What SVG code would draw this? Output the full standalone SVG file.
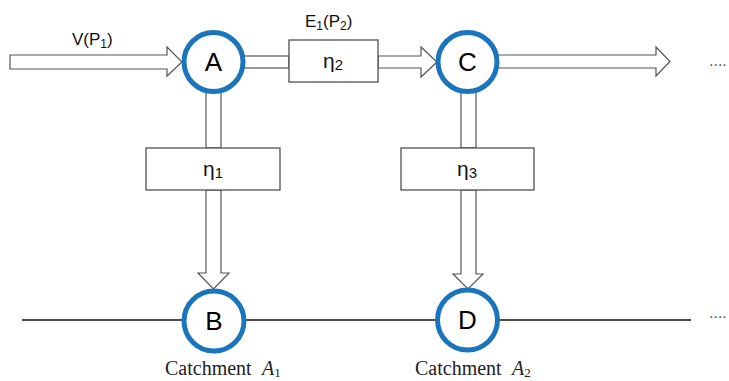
<svg xmlns="http://www.w3.org/2000/svg" width="729" height="381" viewBox="0 0 729 381">
<style>
.arr{fill:#fff;stroke:#555;stroke-width:1.2;stroke-linejoin:miter}
.box{fill:#fff;stroke:#444;stroke-width:1.2}
.node{fill:#fff;stroke:#1b75bc;stroke-width:5}
.lbl{font-family:"Liberation Sans",Arial,sans-serif;fill:#111}
.nl{font-family:"Liberation Sans",Arial,sans-serif;font-size:26px;fill:#000;text-anchor:middle}
.eta{font-family:"Liberation Sans",Arial,sans-serif;font-size:21px;fill:#111;text-anchor:middle}
.cat{font-family:"Liberation Serif","Times New Roman",serif;font-size:20px;fill:#222}
.dots{font-family:"Liberation Sans",Arial,sans-serif;font-size:16px;fill:#555}
</style>
<rect width="729" height="381" fill="#fff"/>
<g id="connectors">
<line x1="22" y1="320" x2="691" y2="320" stroke="#111" stroke-width="1.5"/>
<polygon class="arr" points="10,55 167,55 167,47 182,62 167,76 167,69 10,69"/>
<rect class="arr" x="238" y="56" width="51" height="12"/>
<polygon class="arr" points="378,56 421,56 421,47 437,62 421,77 421,68 378,68"/>
<polygon class="arr" points="497,55 656,55 656,47 670,61.5 656,76 656,68 497,68"/>
<rect class="arr" x="206" y="88" width="15" height="60"/>
<polygon class="arr" points="206,190 206,273 198,273 213.5,289 229,273 221,273 221,190"/>
<rect class="arr" x="461" y="88" width="15" height="60"/>
<polygon class="arr" points="461,190 461,274 453,274 468,289 483,274 476,274 476,190"/>
</g>
<g id="box-eta2"><rect class="box" x="289" y="40" width="89" height="42"/><text class="eta" x="333" y="68">η<tspan font-size="15" dy="2">2</tspan></text></g>
<g id="box-eta1"><rect class="box" x="146" y="148" width="134" height="42"/><text class="eta" x="213" y="176">η<tspan font-size="15" dy="2">1</tspan></text></g>
<g id="box-eta3"><rect class="box" x="401" y="148" width="133" height="42"/><text class="eta" x="467" y="176">η<tspan font-size="15" dy="2">3</tspan></text></g>
<g id="node-A"><circle class="node" cx="213.5" cy="62" r="29.5"/><text class="nl" x="213.5" y="71">A</text></g>
<g id="node-C"><circle class="node" cx="467.5" cy="62" r="29.5"/><text class="nl" x="467.5" y="71">C</text></g>
<g id="node-B"><circle class="node" cx="214" cy="321" r="30"/><text class="nl" x="214" y="330">B</text></g>
<g id="node-D"><circle class="node" cx="467.5" cy="320" r="30"/><text class="nl" x="467.5" y="329">D</text></g>
<g id="labels">
<text class="lbl" x="72" y="45" font-size="17">V(P<tspan font-size="12" dy="3">1</tspan><tspan dy="-3">)</tspan></text>
<text class="lbl" x="305" y="27" font-size="17">E<tspan font-size="12" dy="3">1</tspan><tspan dy="-3">(P</tspan><tspan font-size="12" dy="3">2</tspan><tspan dy="-3">)</tspan></text>
<text class="cat" x="165" y="375">Catchment<tspan x="262" font-style="italic">A</tspan><tspan font-size="13" dy="2">1</tspan></text>
<text class="cat" x="415" y="375">Catchment<tspan x="512" font-style="italic">A</tspan><tspan font-size="13" dy="2">2</tspan></text>
<text class="dots" x="709" y="66">....</text>
<text class="dots" x="709" y="318">....</text>
</g>
</svg>
